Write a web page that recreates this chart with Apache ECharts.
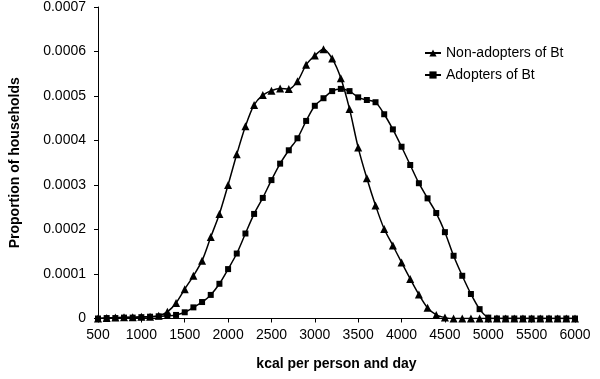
<!DOCTYPE html>
<html>
<head>
<meta charset="utf-8">
<script src="https://cdn.jsdelivr.net/npm/echarts@6/dist/echarts.min.js"></script>
<style>html,body{margin:0;padding:0;background:#fff}#c{width:600px;height:379px}</style>
</head>
<body>
<div id="c"></div>
<script>
const kcal = [];
for (let k = 500; k <= 6000; k += 100) kcal.push(k);

const nonAdopters = [
  0, 0.000001, 0.000002, 0.000003, 0.000003, 0.000004, 0.000004, 0.000006,
  0.000015, 0.000035, 0.000066, 0.000096, 0.00013, 0.000183, 0.000235,
  0.0003, 0.000369, 0.000432, 0.00048, 0.000502, 0.000512, 0.000517, 0.000516,
  0.000533, 0.00057, 0.000591, 0.000605, 0.000584, 0.00054, 0.000471,
  0.000384, 0.000315, 0.000254, 0.000201, 0.000164, 0.000126, 0.000089,
  0.000054, 0.000024, 0.000008, 0.000002, 0, 0, 0, 0, 0, 0, 0, 0, 0, 0,
  0, 0, 0, 0, 0
];

const adopters = [
  0, 0.000001, 0.000001, 0.000002, 0.000002, 0.000003, 0.000004, 0.000005,
  0.000006, 0.000008, 0.000014, 0.000025, 0.000037, 0.000053, 0.000078,
  0.000111, 0.000146, 0.000191, 0.000235, 0.000271, 0.000311, 0.000348,
  0.000378, 0.000405, 0.000444, 0.000478, 0.000495, 0.000511, 0.000516,
  0.000511, 0.000497, 0.000491, 0.000486, 0.000459, 0.000425, 0.000386,
  0.000345, 0.000304, 0.00027, 0.000237, 0.000194, 0.000141, 0.000096,
  0.000055, 0.000021, 0.000002, 0, 0, 0, 0, 0, 0, 0, 0, 0, 0
];

const seriesNames = ['Non-adopters of Bt', 'Adopters of Bt'];

const pairs = arr => kcal.map((k, i) => [k, arr[i]]);

const chart = echarts.init(document.getElementById('c'));
const font = 'Arial';
chart.setOption({
  animation: false,
  backgroundColor: '#fff',
  grid: { left: 93, right: 25, top: 7, bottom: 60.5 },
  legend: {
    orient: 'vertical',
    left: 419,
    top: 41,
    itemWidth: 16,
    itemHeight: 9,
    itemGap: 8,
    textStyle: { fontFamily: font, fontSize: 14, color: '#000' },
    data: seriesNames
  },
  xAxis: {
    type: 'value',
    min: 500, max: 6000, interval: 500,
    name: 'kcal per person and day',
    nameLocation: 'middle',
    nameGap: 39,
    nameTextStyle: { fontFamily: font, fontSize: 14, fontWeight: 'bold', color: '#000' },
    axisLine: { lineStyle: { color: '#000', width: 1 } },
    axisTick: { show: true, inside: false, length: 4, lineStyle: { color: '#000' } },
    axisLabel: { fontFamily: font, fontSize: 14, color: '#000', margin: 10, formatter: v => String(v) },
    splitLine: { show: false }
  },
  yAxis: {
    type: 'value',
    min: 0, max: 0.0007, interval: 0.0001,
    name: 'Proportion of households',
    nameLocation: 'middle',
    nameGap: 76,
    nameTextStyle: { fontFamily: font, fontSize: 14, fontWeight: 'bold', color: '#000' },
    axisLine: { show: true, lineStyle: { color: '#000', width: 1 } },
    axisTick: { show: true, inside: false, length: 4, lineStyle: { color: '#000' } },
    axisLabel: {
      fontFamily: font, fontSize: 14, color: '#000', margin: 12,
      formatter: v => (v === 0 ? '0' : v.toFixed(4))
    },
    splitLine: { show: false }
  },
  series: [
    {
      name: seriesNames[0],
      type: 'line',
      data: pairs(nonAdopters),
      smooth: 0.3,
      symbol: 'triangle',
      symbolSize: 8,
      lineStyle: { color: '#000', width: 1.5 },
      itemStyle: { color: '#000' }
    },
    {
      name: seriesNames[1],
      type: 'line',
      data: pairs(adopters),
      smooth: 0.3,
      symbol: 'rect',
      symbolSize: 6,
      lineStyle: { color: '#000', width: 1.5 },
      itemStyle: { color: '#000' }
    }
  ]
});
</script>
</body>
</html>
